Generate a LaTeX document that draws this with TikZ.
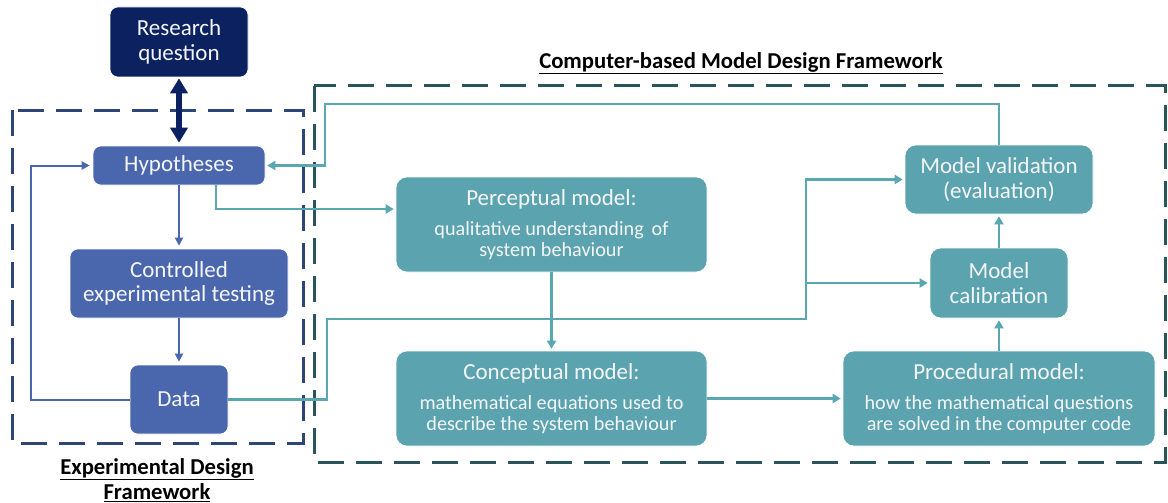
\documentclass[tikz,border=0pt]{standalone}
\usepackage{fontspec}
\setmainfont{Carlito}
\usetikzlibrary{arrows.meta}
\definecolor{navy}{HTML}{0B2160}
\definecolor{boxblue}{HTML}{4A66AC}
\definecolor{frameblue}{HTML}{2E4577}
\definecolor{boxteal}{HTML}{5BA3AE}
\definecolor{lineteal}{HTML}{5AA7B2}
\definecolor{frameteal}{HTML}{2A5459}
\definecolor{boxtext}{HTML}{F4F6FA}
\begin{document}
\begin{tikzpicture}[x=1pt,y=-1pt,
  bluebox/.style={fill=boxblue, draw=white, line width=0.6pt, rounded corners=8pt,
    text=boxtext, align=center, font=\fontsize{23}{24.5}\selectfont, inner sep=0pt},
  navybox/.style={bluebox, fill=navy},
  tealbox/.style={fill=boxteal, draw=white, line width=0.6pt, rounded corners=11pt,
    text=boxtext, align=center, font=\fontsize{23}{24.5}\selectfont, inner sep=0pt},
  modelbox/.style={tealbox, minimum height=95pt, font=\fontsize{23}{20.8}\selectfont},
  blueline/.style={draw=boxblue, line width=2pt},
  tealline/.style={draw=lineteal, line width=2.6pt},
  bluetip/.style={-{Triangle[width=8pt,length=8pt]}, shorten >=3pt},
  tealtip/.style={-{Triangle[width=9pt,length=8pt]}, shorten >=2pt},
  frame/.style={line width=3pt, dash pattern=on 26pt off 12pt},
  caption/.style={font=\bfseries\fontsize{22.7}{25}\selectfont, align=center, text=black},
]
\useasboundingbox (0,0) rectangle (1168,503);
\newcommand\bodytext{\fontsize{20.2}{20.8}\selectfont}

% dashed frames of the two frameworks
\draw[frame, draw=frameblue] (12,110) rectangle (303,443);
\draw[frame, draw=frameteal] (314,86) rectangle (1165,462);

% experimental side
\node[navybox, minimum width=138pt, minimum height=70pt] (rq) at (179,42) {Research\\question};
\node[bluebox, minimum width=172pt, minimum height=39pt] (hyp) at (179,165.5) {Hypotheses};
\node[bluebox, minimum width=218pt, minimum height=69pt] (ctrl) at (179,283.5) {Controlled\\experimental testing};
\node[bluebox, minimum width=98pt, minimum height=69pt] (data) at (179,399.5) {Data};

% model side
\node[modelbox, minimum width=311pt] (perc) at (551.5,224.5)
  {Perceptual model:\\[10pt]{\bodytext qualitative understanding\, of}\\{\bodytext system behaviour}};
\node[modelbox, minimum width=311pt] (conc) at (551.5,398.5)
  {Conceptual model:\\[9pt]{\bodytext mathematical equations used to}\\{\bodytext describe the system behaviour}};
\node[modelbox, minimum width=312pt] (proc) at (999,398.5)
  {Procedural model:\\[9pt]{\bodytext how the mathematical questions}\\{\bodytext are solved in the computer code}};
\node[tealbox, minimum width=138pt, minimum height=70pt] (cal) at (999,283) {Model\\calibration};
\node[tealbox, minimum width=188pt, minimum height=69pt] (val) at (999,179.5) {Model validation\\(evaluation)};

% captions
\node[caption] (expcap) at (157,480) {\underline{Experimental Design}\\\underline{Framework}};
\node[caption] (modcap) at (741,63) {\underline{Computer-based Model Design Framework}};

% routing coordinates
\coordinate (loopx) at (31,0);
\coordinate (hx) at (216,0);
\coordinate (topy) at (0,104);
\coordinate (backx) at (325,0);
\coordinate (dx) at (327,0);
\coordinate (dy) at (0,319);
\coordinate (vx) at (806,0);

% research question <-> hypotheses
\draw[draw=navy, line width=6pt, {Triangle[width=17pt,length=15pt]}-{Triangle[width=17pt,length=15pt]},
  shorten <=1pt, shorten >=3pt] (rq) -- (hyp);

% experimental loop
\draw[blueline, bluetip] (hyp) -- (ctrl);
\draw[blueline, bluetip] (ctrl) -- (data);
\draw[blueline, bluetip] (data.west) -- (data.west -| loopx) -- (hyp.west -| loopx) -- (hyp.west);

% links between the frameworks
\draw[tealline, tealtip] (hyp.south -| hx) |- ([yshift=15.5pt]perc.west);
\draw[tealline, tealtip] (val.north) -- (val.north |- topy) -- (backx |- topy)
  -- (backx |- hyp.east) -- (hyp.east);
\draw[tealline, tealtip] (data.east) -- (data.east -| dx) -- (dx |- dy) -- (vx |- dy)
  -- (vx |- val.west) -- (val.west);
\draw[tealline, tealtip] (vx |- cal.west) -- (cal.west);

% model chain
\draw[tealline, tealtip] (perc) -- (conc);
\draw[tealline, tealtip] (conc) -- (proc);
\draw[tealline, tealtip] (proc) -- (cal);
\draw[tealline, tealtip] (cal) -- (val);
\end{tikzpicture}
\end{document}
